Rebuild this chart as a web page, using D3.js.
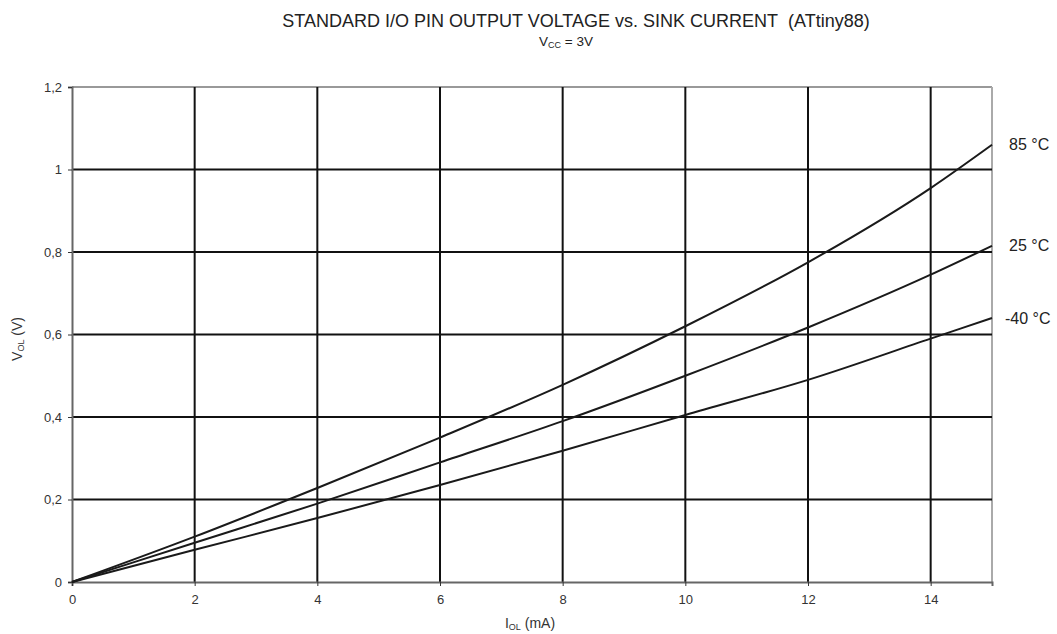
<!DOCTYPE html>
<html><head><meta charset="utf-8">
<script src="https://cdn.jsdelivr.net/npm/d3@7/dist/d3.min.js"></script>
<style>body{margin:0;background:#fff;} text{font-family:"Liberation Sans",Arial,sans-serif;}</style>
</head><body>
<svg id="c" width="1057" height="634"></svg>
<script>
const xValues = [0, 2, 4, 6, 8, 10, 12, 14, 15];
const series85 = [0, 0.11, 0.228, 0.35, 0.478, 0.62, 0.775, 0.955, 1.06];
const series25 = [0, 0.095, 0.19, 0.29, 0.39, 0.5, 0.617, 0.745, 0.815];
const seriesM40 = [0, 0.078, 0.155, 0.235, 0.318, 0.405, 0.49, 0.59, 0.64];
const seriesLabels = ["85 °C", "25 °C", "-40 °C"];
const xTicks = [0, 2, 4, 6, 8, 10, 12, 14];
const yTicks = [0, 0.2, 0.4, 0.6, 0.8, 1, 1.2];
const yTickLabels = ["0", "0,2", "0,4", "0,6", "0,8", "1", "1,2"];

const svg = d3.select("#c");
const L = 72, R = 992, T = 87, B = 582;
const x = d3.scaleLinear().domain([0, 15]).range([L, R]);
const y = d3.scaleLinear().domain([0, 1.2]).range([B, T]);
const FF = "Liberation Sans, Arial, sans-serif";

// border top/right
svg.append("line").attr("x1", L).attr("x2", R).attr("y1", T).attr("y2", T).attr("stroke", "#999").attr("stroke-width", 2);
svg.append("line").attr("x1", R).attr("x2", R).attr("y1", T).attr("y2", B).attr("stroke", "#aaa").attr("stroke-width", 2);

// grid
svg.append("g").selectAll("line").data(xTicks.filter(d => d > 0)).join("line")
  .attr("x1", d => x(d)).attr("x2", d => x(d)).attr("y1", T).attr("y2", B)
  .attr("stroke", "#111").attr("stroke-width", 2);
svg.append("g").selectAll("line").data(yTicks.filter(d => d > 0 && d < 1.2)).join("line")
  .attr("x1", L).attr("x2", R).attr("y1", d => y(d)).attr("y2", d => y(d))
  .attr("stroke", "#111").attr("stroke-width", 2);

// axes
const xAxis = d3.axisBottom(x).tickValues(xTicks).tickSize(4).tickPadding(9).tickFormat(d3.format("d"));
const gx = svg.append("g").attr("transform", `translate(0,${B})`).call(xAxis);
gx.select(".domain").attr("stroke", "#666").attr("stroke-width", 2);
gx.selectAll(".tick line").attr("stroke", "#333");
gx.selectAll("text").attr("font-size", 13).attr("fill", "#333").attr("font-family", FF);

const yAxis = d3.axisLeft(y).tickValues(yTicks).tickSize(4).tickPadding(6).tickFormat((d, i) => yTickLabels[i]);
const gy = svg.append("g").attr("transform", `translate(${L},0)`).call(yAxis);
gy.select(".domain").attr("stroke", "#666").attr("stroke-width", 2);
gy.selectAll(".tick line").attr("stroke", "#333");
gy.selectAll("text").attr("font-size", 13).attr("fill", "#333").attr("font-family", FF);

// curves
const line = d3.line().x((d, i) => x(xValues[i])).y(d => y(d)).curve(d3.curveMonotoneX);
const all = [series85, series25, seriesM40];
all.forEach((s, k) => {
  svg.append("path").attr("d", line(s)).attr("fill", "none").attr("stroke", "#1a1a1a").attr("stroke-width", 2);
  svg.append("text").attr("x", k === 2 ? 1005 : 1009).attr("y", y(s[s.length - 1])).attr("dy", "0.35em")
    .attr("font-size", 16).attr("fill", "#222").text(seriesLabels[k]);
});

// titles
svg.append("text").attr("x", 576).attr("y", 27).attr("text-anchor", "middle").attr("font-size", 18).attr("fill", "#222")
  .text("STANDARD I/O PIN OUTPUT VOLTAGE vs. SINK CURRENT\u00a0\u00a0(ATtiny88)");
const sub = svg.append("text").attr("x", 566).attr("y", 46).attr("text-anchor", "middle").attr("font-size", 13.5).attr("fill", "#222");
sub.append("tspan").text("V");
sub.append("tspan").attr("font-size", 9).attr("dy", 2).text("CC");
sub.append("tspan").attr("dy", -2).text(" = 3V");

const xt = svg.append("text").attr("x", 530).attr("y", 628).attr("text-anchor", "middle").attr("font-size", 14).attr("fill", "#333");
xt.append("tspan").text("I");
xt.append("tspan").attr("font-size", 9).attr("dy", 2).text("OL");
xt.append("tspan").attr("dy", -2).text(" (mA)");

const yt = svg.append("text").attr("transform", `translate(22,339) rotate(-90)`).attr("text-anchor", "middle").attr("font-size", 14).attr("fill", "#333");
yt.append("tspan").text("V");
yt.append("tspan").attr("font-size", 9).attr("dy", 2).text("OL");
yt.append("tspan").attr("dy", -2).text(" (V)");
</script>
</body></html>
